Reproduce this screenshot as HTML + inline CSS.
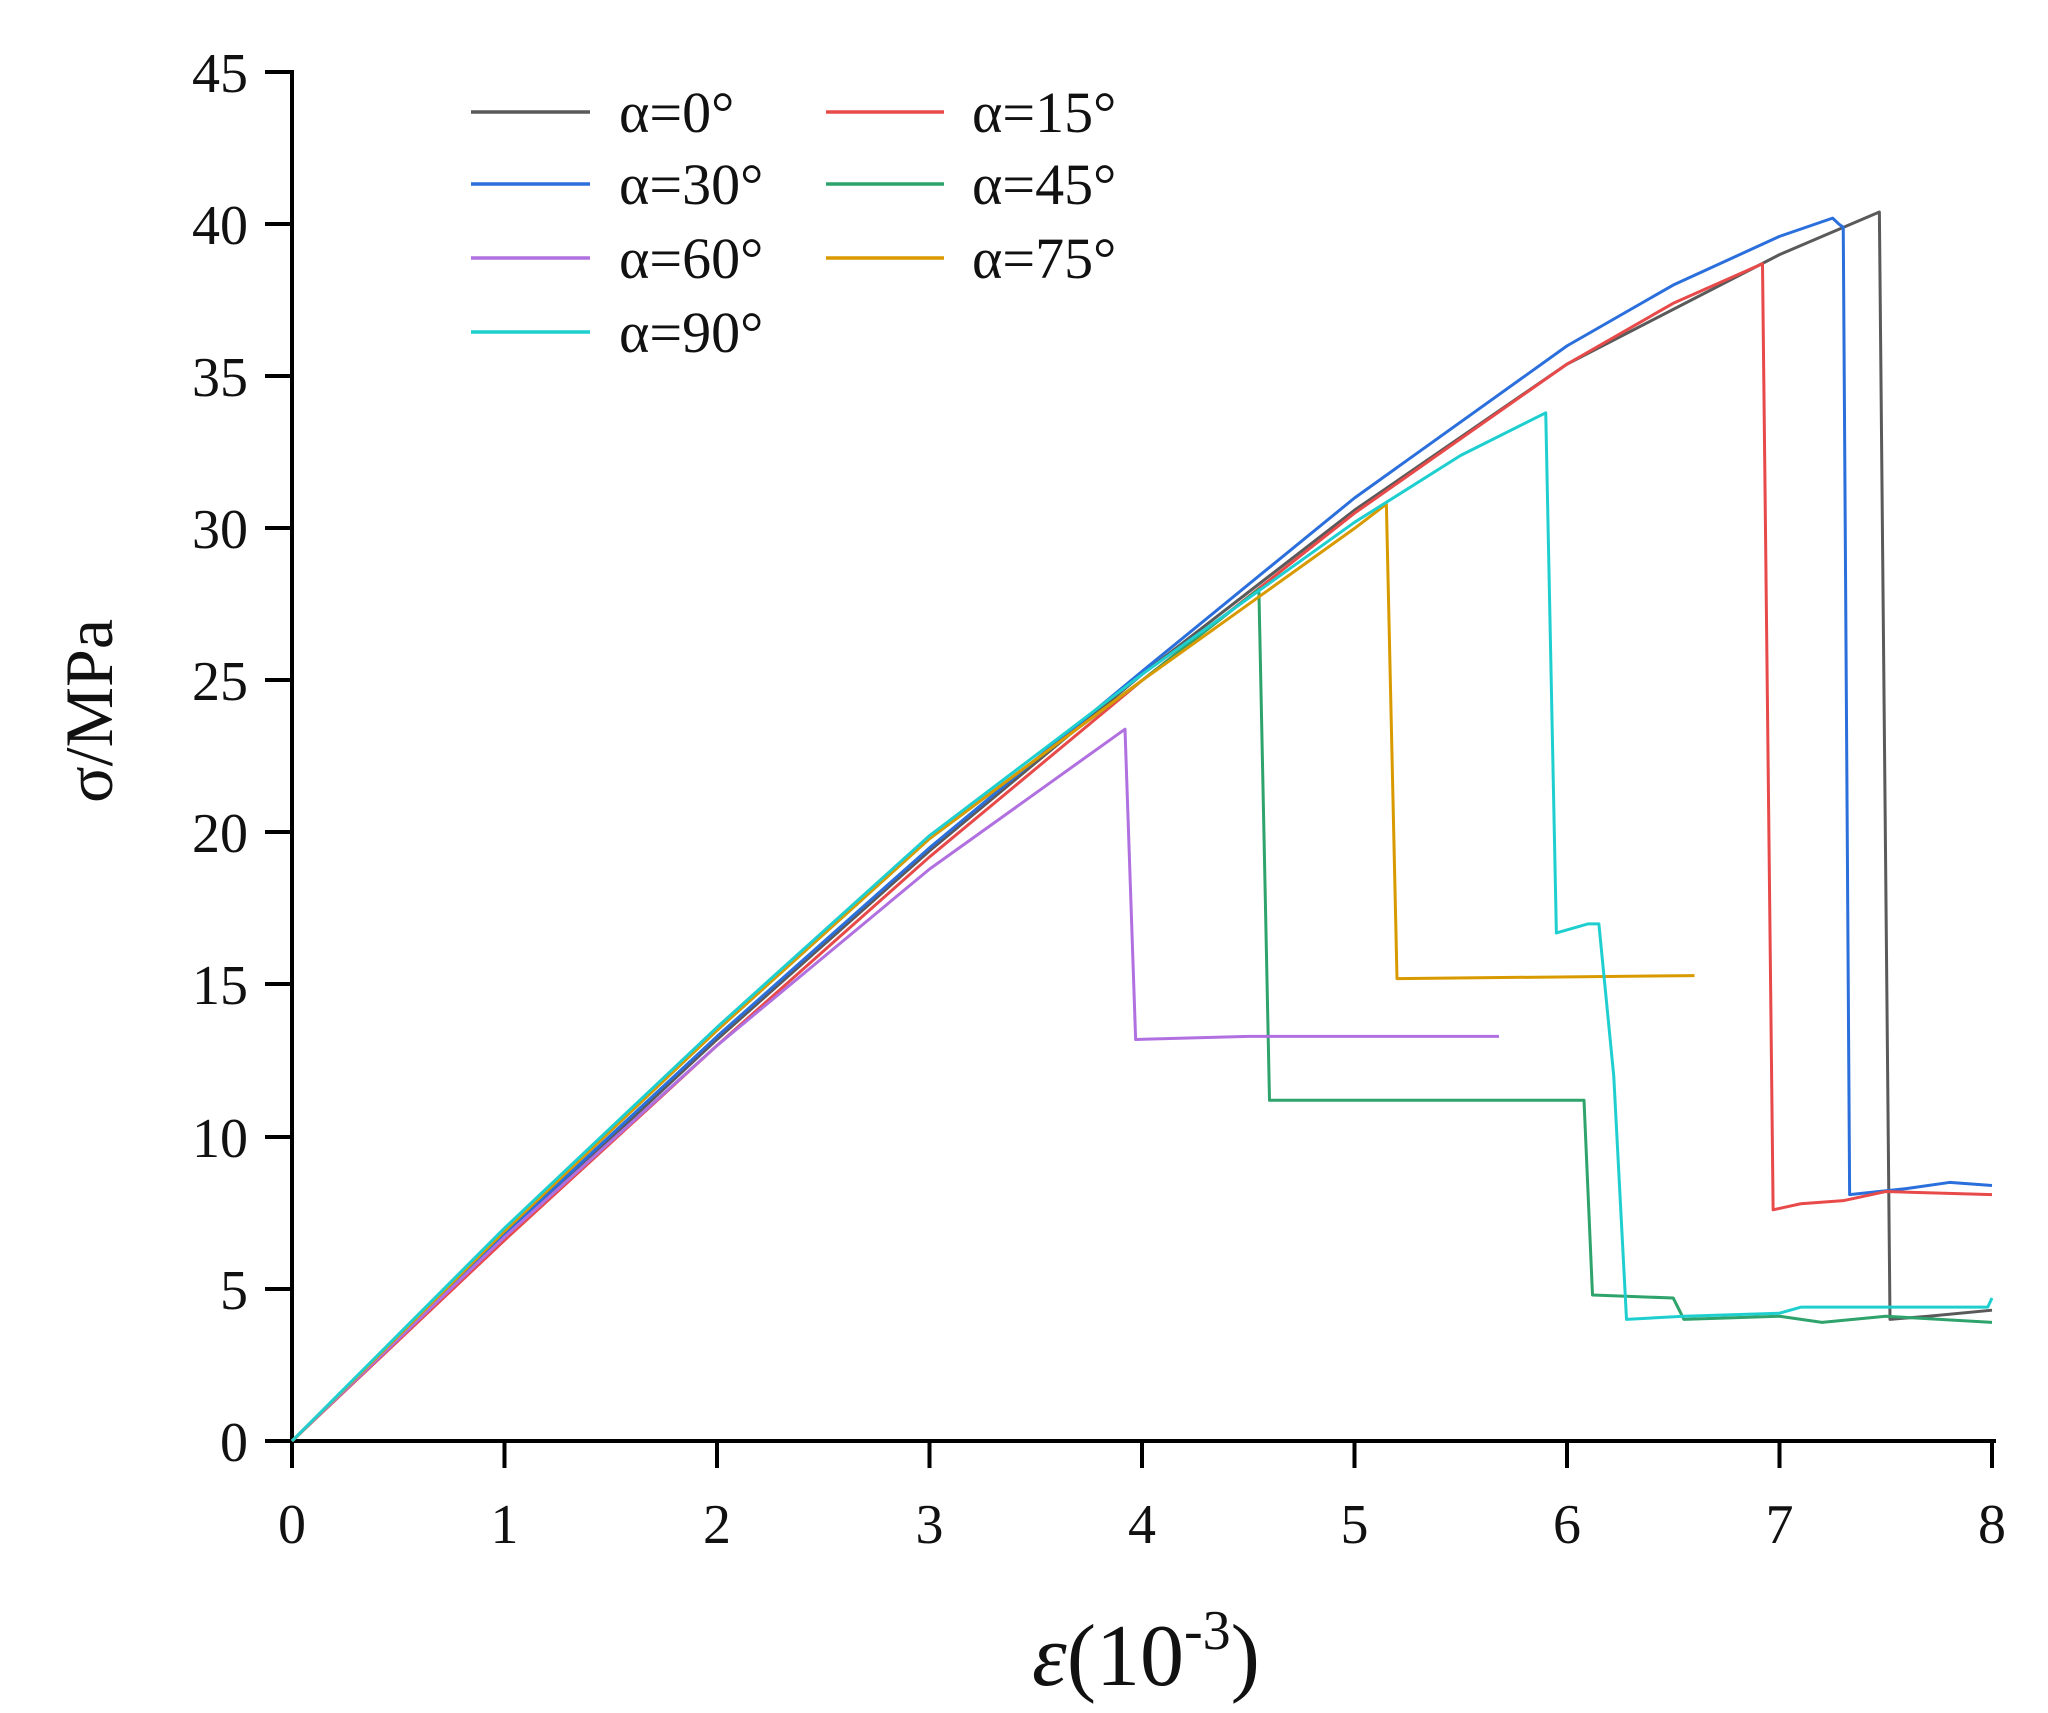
<!DOCTYPE html>
<html><head><meta charset="utf-8"><style>
html,body{margin:0;padding:0;background:#fff;}
svg{display:block;}
text{font-family:"Liberation Serif","DejaVu Serif",serif;fill:#111;}
</style></head><body>
<svg width="2048" height="1713" viewBox="0 0 2048 1713" xmlns="http://www.w3.org/2000/svg">
<g stroke="#000" stroke-width="4" fill="none">
<line x1="292" y1="70" x2="292" y2="1441"/>
<line x1="290" y1="1441" x2="1996" y2="1441"/>
<line x1="265" y1="1441" x2="292" y2="1441"/>
<line x1="265" y1="1289" x2="292" y2="1289"/>
<line x1="265" y1="1137" x2="292" y2="1137"/>
<line x1="265" y1="984" x2="292" y2="984"/>
<line x1="265" y1="832" x2="292" y2="832"/>
<line x1="265" y1="680" x2="292" y2="680"/>
<line x1="265" y1="528" x2="292" y2="528"/>
<line x1="265" y1="376" x2="292" y2="376"/>
<line x1="265" y1="224" x2="292" y2="224"/>
<line x1="265" y1="72" x2="292" y2="72"/>
<line x1="292" y1="1441" x2="292" y2="1468"/>
<line x1="504.5" y1="1441" x2="504.5" y2="1468"/>
<line x1="717" y1="1441" x2="717" y2="1468"/>
<line x1="929.5" y1="1441" x2="929.5" y2="1468"/>
<line x1="1142" y1="1441" x2="1142" y2="1468"/>
<line x1="1354.5" y1="1441" x2="1354.5" y2="1468"/>
<line x1="1567" y1="1441" x2="1567" y2="1468"/>
<line x1="1779.5" y1="1441" x2="1779.5" y2="1468"/>
<line x1="1992" y1="1441" x2="1992" y2="1468"/>
</g>
<g font-size="56" text-anchor="end">
<text x="248" y="1461">0</text>
<text x="248" y="1309">5</text>
<text x="248" y="1157">10</text>
<text x="248" y="1004">15</text>
<text x="248" y="852">20</text>
<text x="248" y="700">25</text>
<text x="248" y="548">30</text>
<text x="248" y="396">35</text>
<text x="248" y="244">40</text>
<text x="248" y="92">45</text>
</g>
<g font-size="56" text-anchor="middle">
<text x="292" y="1543">0</text>
<text x="504.5" y="1543">1</text>
<text x="717" y="1543">2</text>
<text x="929.5" y="1543">3</text>
<text x="1142" y="1543">4</text>
<text x="1354.5" y="1543">5</text>
<text x="1567" y="1543">6</text>
<text x="1779.5" y="1543">7</text>
<text x="1992" y="1543">8</text>
</g>
<text font-size="68" text-anchor="middle" transform="translate(112,711) rotate(-90)">σ/MPa</text>
<text font-size="88" x="1032" y="1685"><tspan font-style="italic">ε</tspan>(10<tspan font-size="56" dy="-36">-3</tspan><tspan dy="36">)</tspan></text>

<g transform="translate(292,1441) scale(212.5,-30.42)" fill="none" stroke-width="3" stroke-linejoin="round">
<polyline vector-effect="non-scaling-stroke" stroke="#5a5a5a" points="0,0 1,6.7 2,13.2 3,19.4 4,25.2 5,30.6 6,35.4 7,39 7.47,40.4 7.52,4 7.7,4.1 8,4.3"/>
<polyline vector-effect="non-scaling-stroke" stroke="#2a6fdb" points="0,0 1,6.8 2,13.3 3,19.5 4,25.3 5,31 6,36 6.5,38 7,39.6 7.25,40.2 7.28,40 7.3,39.9 7.33,8.1 7.6,8.3 7.8,8.5 8,8.4"/>
<polyline vector-effect="non-scaling-stroke" stroke="#e84a4a" points="0,0 1,6.6 2,13 3,19.2 4,25 5,30.5 6,35.4 6.5,37.4 6.92,38.7 6.97,7.6 7.1,7.8 7.3,7.9 7.5,8.2 8,8.1"/>
<polyline vector-effect="non-scaling-stroke" stroke="#2ea36b" points="0,0 1,6.9 2,13.5 3,19.8 4,25 4.55,28 4.6,11.2 6.08,11.2 6.12,4.8 6.5,4.7 6.55,4 7,4.1 7.2,3.9 7.5,4.1 8,3.9"/>
<polyline vector-effect="non-scaling-stroke" stroke="#b070e0" points="0,0 1,6.7 2,13 3,18.8 3.5,21.3 3.92,23.4 3.97,13.2 4.5,13.3 5.68,13.3"/>
<polyline vector-effect="non-scaling-stroke" stroke="#d99a00" points="0,0 1,6.9 2,13.5 3,19.8 4,25 5,30 5.15,30.8 5.2,15.2 6.6,15.3"/>
<polyline vector-effect="non-scaling-stroke" stroke="#1fcfcf" points="0,0 1,7 2,13.6 3,19.9 3.7,23.6 4,25.2 4.5,27.7 5,30.2 5.5,32.4 5.9,33.8 5.95,16.7 6.1,17 6.15,17 6.22,12 6.28,4 6.55,4.1 7,4.2 7.1,4.4 7.98,4.4 8,4.7"/>
</g>

<g stroke-width="3.5">
<line x1="471" y1="112" x2="590" y2="112" stroke="#5a5a5a"/>
<line x1="471" y1="184" x2="590" y2="184" stroke="#2a6fdb"/>
<line x1="471" y1="258" x2="590" y2="258" stroke="#b070e0"/>
<line x1="471" y1="332" x2="590" y2="332" stroke="#1fcfcf"/>
<line x1="826" y1="112" x2="944" y2="112" stroke="#e84a4a"/>
<line x1="826" y1="184" x2="944" y2="184" stroke="#2ea36b"/>
<line x1="826" y1="258" x2="944" y2="258" stroke="#d99a00"/>
</g>
<g font-size="58">
<text x="619" y="132">α=0°</text>
<text x="619" y="204">α=30°</text>
<text x="619" y="278">α=60°</text>
<text x="619" y="352">α=90°</text>
<text x="972" y="132">α=15°</text>
<text x="972" y="204">α=45°</text>
<text x="972" y="278">α=75°</text>
</g>
</svg>
</body></html>
